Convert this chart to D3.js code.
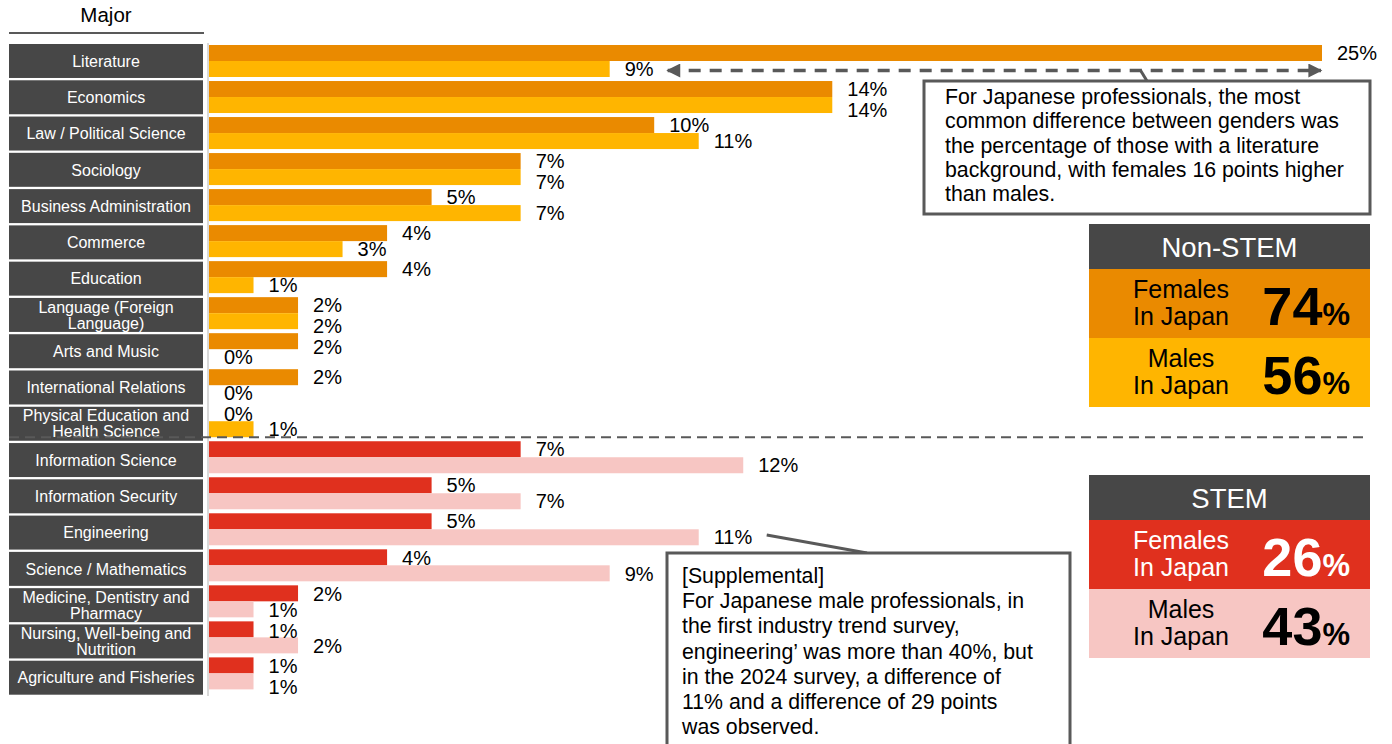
<!DOCTYPE html>
<html>
<head>
<meta charset="utf-8">
<script src="https://cdn.jsdelivr.net/npm/d3@7"></script>
<style>
  html, body { margin: 0; padding: 0; background: #fff; }
  svg { display: block; font-family: "Liberation Sans", Arial, sans-serif; }
</style>
</head>
<body>
<svg id="chart" width="1392" height="744"></svg>
<script>
// Majors of Japanese professionals, by gender (%)
const categories = [
  "Literature", "Economics", "Law / Political Science", "Sociology",
  "Business Administration", "Commerce", "Education",
  "Language (Foreign\nLanguage)", "Arts and Music", "International Relations",
  "Physical Education and\nHealth Science",
  "Information Science", "Information Security", "Engineering",
  "Science / Mathematics", "Medicine, Dentistry and\nPharmacy",
  "Nursing, Well-being and\nNutrition", "Agriculture and Fisheries"
];
const fieldGroup = [
  "Non-STEM", "Non-STEM", "Non-STEM", "Non-STEM", "Non-STEM", "Non-STEM",
  "Non-STEM", "Non-STEM", "Non-STEM", "Non-STEM", "Non-STEM",
  "STEM", "STEM", "STEM", "STEM", "STEM", "STEM", "STEM"
];
const femalesInJapan = [25, 14, 10, 7, 5, 4, 4, 2, 2, 2, 0, 7, 5, 5, 4, 2, 1, 1];
const malesInJapan   = [9, 14, 11, 7, 7, 3, 1, 2, 0, 0, 1, 12, 7, 11, 9, 1, 2, 1];

// Totals per field group
const summaryGroups  = ["Non-STEM", "STEM"];
const summaryFemales = [74, 26];
const summaryMales   = [56, 43];

const notes = {
  literature: [
    "For Japanese professionals, the most",
    "common difference between genders was",
    "the percentage of those with a literature",
    "background, with females 16 points higher",
    "than males."
  ],
  engineering: [
    "[Supplemental]",
    "For Japanese male professionals, in",
    "the first industry trend survey,",
    "engineering\u2019 was more than 40%, but",
    "in the 2024 survey, a difference of",
    "11% and a difference of 29 points",
    "was observed."
  ]
};

const palette = {
  "Non-STEM": { female: "#EA8A00", male: "#FFB500", femaleText: "#000" },
  "STEM":     { female: "#E0301E", male: "#F7C6C3", femaleText: "#fff" }
};
const dark = "#474747";
const lineGrey = "#595959";

const svg = d3.select("#chart");

const idx = d3.range(categories.length);
const x = d3.scaleLinear().domain([0, 25]).range([209, 1322]);
// label boxes and bar pairs sit on slightly different row grids
const yBox = d3.scaleBand().domain(idx).range([43, 696]);
const yBar = d3.scaleBand().domain(idx).range([45, 693.4]);
const barH = 16;

// Column header
svg.append("text").attr("x", 106).attr("y", 22).attr("text-anchor", "middle")
  .attr("font-size", 20.5).attr("fill", "#000").text("Major");
svg.append("line").attr("x1", 9).attr("x2", 204).attr("y1", 33).attr("y2", 33)
  .attr("stroke", lineGrey).attr("stroke-width", 2);

// Category label boxes
const boxH = yBox.step() - 2.3;
const rows = svg.append("g").selectAll("g").data(categories).join("g")
  .attr("transform", (d, i) => `translate(0,${yBox(i)})`);
rows.append("rect").attr("x", 9).attr("y", 1).attr("width", 194).attr("height", boxH)
  .attr("fill", dark);
rows.each(function (d) {
  const lines = d.split("\n");
  const t = d3.select(this).append("text").attr("text-anchor", "middle")
    .attr("font-size", 16).attr("fill", "#fff");
  const mid = boxH / 2 + 1;
  lines.forEach((ln, k) => {
    t.append("tspan").attr("x", 106)
      .attr("y", mid + 5.7 + (k - (lines.length - 1) / 2) * 16)
      .text(ln);
  });
});

// Value axis baseline
svg.append("line").attr("x1", 208).attr("x2", 208).attr("y1", 43).attr("y2", 696)
  .attr("stroke", "#d9d9d9").attr("stroke-width", 2);

// Bars
const bars = svg.append("g");
idx.forEach(i => {
  const col = palette[fieldGroup[i]];
  const y0 = yBar(i);
  bars.append("rect").attr("x", x(0)).attr("y", y0)
    .attr("width", x(femalesInJapan[i]) - x(0)).attr("height", barH).attr("fill", col.female);
  bars.append("rect").attr("x", x(0)).attr("y", y0 + barH)
    .attr("width", x(malesInJapan[i]) - x(0)).attr("height", barH).attr("fill", col.male);
});

// Value labels at the bar ends, nudged down when they would collide
const labelG = svg.append("g").attr("font-size", 20).attr("fill", "#000");
const valueLabels = [];
idx.forEach(i => {
  const y0 = yBar(i);
  [[femalesInJapan[i], y0 + barH / 2], [malesInJapan[i], y0 + barH * 1.5]].forEach(([v, cy]) => {
    const lx = x(v) + 15;
    const node = labelG.append("text").attr("x", lx).text(v + "%");
    valueLabels.push({ node, x0: lx, x1: lx + node.node().getComputedTextLength(), cy });
  });
});
const minGap = 21;
valueLabels.forEach((lab, k) => {
  for (let j = 0; j < k; j++) {
    const o = valueLabels[j];
    const overlapX = lab.x0 < o.x1 && o.x0 < lab.x1;
    if (overlapX && lab.cy - o.cy < minGap) lab.cy = o.cy + minGap;
  }
  lab.node.attr("y", lab.cy + 7.2);
});

// Separator between Non-STEM and STEM fields
const firstStem = fieldGroup.indexOf("STEM");
const sepY = yBar(firstStem) - 4;
svg.append("line").attr("x1", 9).attr("x2", 1366).attr("y1", sepY).attr("y2", sepY)
  .attr("stroke", lineGrey).attr("stroke-width", 2).attr("stroke-dasharray", "10,6");

// Double-headed arrow showing the literature gap
const defs = svg.append("defs");
defs.append("marker").attr("id", "head").attr("viewBox", "0 0 10 10")
  .attr("refX", 9).attr("refY", 5).attr("markerWidth", 4.4).attr("markerHeight", 4)
  .attr("markerUnits", "strokeWidth").attr("orient", "auto-start-reverse")
  .append("path").attr("d", "M0,0 L10,5 L0,10 Z").attr("fill", lineGrey);
const litY = yBar(0) + barH * 1.5 + 1.5;
svg.append("line").attr("x1", x(malesInJapan[0]) + 58).attr("x2", x(femalesInJapan[0]) - 1)
  .attr("y1", litY).attr("y2", litY)
  .attr("stroke", lineGrey).attr("stroke-width", 3.5).attr("stroke-dasharray", "12,9")
  .attr("marker-start", "url(#head)").attr("marker-end", "url(#head)");

// Callout boxes
function callout(bx, by, bw, bh, tx, ty0, lh, lines, from, to) {
  svg.append("line").attr("x1", from[0]).attr("y1", from[1]).attr("x2", to[0]).attr("y2", to[1])
    .attr("stroke", lineGrey).attr("stroke-width", 3);
  svg.append("rect").attr("x", bx).attr("y", by).attr("width", bw).attr("height", bh)
    .attr("fill", "#fff").attr("stroke", lineGrey).attr("stroke-width", 3);
  const t = svg.append("text").attr("font-size", 21.3).attr("fill", "#000");
  lines.forEach((ln, k) => t.append("tspan").attr("x", tx).attr("y", ty0 + k * lh).text(ln));
}
callout(924, 81, 446, 133, 945, 104, 24.3, notes.literature, [1140, litY - 1], [1147, 81]);
callout(667, 553, 403, 200, 682, 583, 25.2, notes.engineering,
  [x(malesInJapan[13]) + 68, 535], [867, 553]);

// Group summary panels
function summary(top, gi) {
  const g = summaryGroups[gi];
  const col = palette[g];
  const left = 1089, w = 281, headH = 45, rowH = 69;
  svg.append("rect").attr("x", left).attr("y", top).attr("width", w).attr("height", headH).attr("fill", dark);
  svg.append("text").attr("x", left + w / 2).attr("y", top + headH / 2 + 10)
    .attr("text-anchor", "middle").attr("font-size", 27.5).attr("fill", "#fff").text(g);
  const rowsData = [
    { label: ["Females", "In Japan"], v: summaryFemales[gi], fill: col.female, tc: col.femaleText },
    { label: ["Males", "In Japan"], v: summaryMales[gi], fill: col.male, tc: "#000" }
  ];
  rowsData.forEach((r, k) => {
    const ry = top + headH + k * rowH;
    const cy = ry + rowH / 2;
    svg.append("rect").attr("x", left).attr("y", ry).attr("width", w).attr("height", rowH).attr("fill", r.fill);
    const t = svg.append("text").attr("text-anchor", "middle").attr("font-size", 25).attr("fill", r.tc);
    t.append("tspan").attr("x", 1181).attr("y", cy - 5.5).text(r.label[0]);
    t.append("tspan").attr("x", 1181).attr("y", cy + 21.5).text(r.label[1]);
    const n = svg.append("text").attr("x", 1350).attr("y", cy + 21.5).attr("text-anchor", "end")
      .attr("font-weight", "bold").attr("fill", r.tc);
    n.append("tspan").attr("font-size", 54).text(r.v);
    n.append("tspan").attr("font-size", 31).text("%");
  });
}
summary(224, 0);
summary(475, 1);
</script>
</body>
</html>
